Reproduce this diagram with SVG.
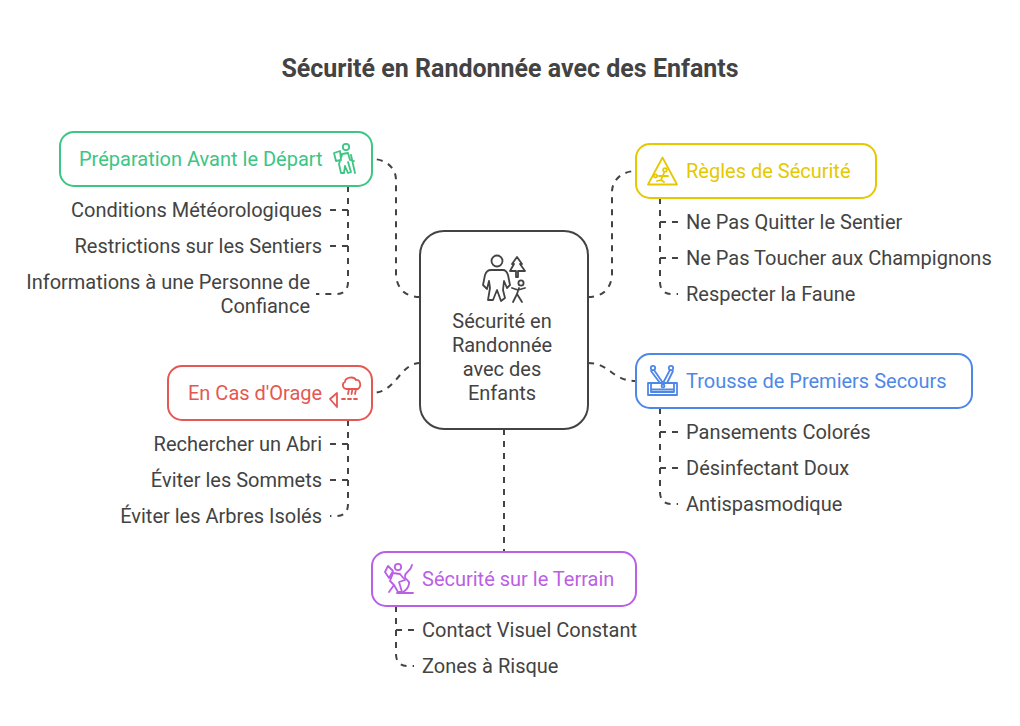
<svg xmlns="http://www.w3.org/2000/svg" width="1020" height="726" viewBox="0 0 1020 726">
<style>
text{font-family:Roboto,"Liberation Sans",sans-serif;font-size:20px;fill:#434343}
.e{text-anchor:end}
.m{text-anchor:middle}
.t{font-size:25px;font-weight:700}
.box{fill:#fff;stroke-width:2}
.ic{fill:none;stroke-width:1.800;stroke-linecap:round;stroke-linejoin:round}
#connectors path{fill:none;stroke:#434343;stroke-width:2;stroke-dasharray:6 6}
.g{stroke:#3cc583}.gt{fill:#3cc583}
.y{stroke:#e5c800}.yt{fill:#e5c800}
.r{stroke:#e55753}.rt{fill:#e55753}
.b{stroke:#4e88e7}.bt{fill:#4e88e7}
.p{stroke:#bb5fe6}.pt{fill:#bb5fe6}
</style>
<rect width="1020" height="726" fill="#fff"/>
<text class="m t" x="510" y="77">Sécurité en Randonnée avec des Enfants</text>
<g id="connectors">
<path d="M420 297C405 297 396 288 396 273V180C396 168 386 159 372 159"/>
<path d="M588 297C603 297 612 288 612 273V192C612 180 622 171 636 171"/>
<path d="M420 363C400 363 396 393 372 393"/>
<path d="M588 363C610 363 612 381 636 381"/>
<path d="M504 429V552"/>
<path d="M348 186V282Q348 294 336 294H316"/>
<path d="M348 210H330"/>
<path d="M348 246H330"/>
<path d="M660 198V282Q660 294 672 294H678"/>
<path d="M660 222H678"/>
<path d="M660 258H678"/>
<path d="M660 408V492Q660 504 672 504H678"/>
<path d="M660 432H678"/>
<path d="M660 468H678"/>
<path d="M348 420V504Q348 516 336 516H330"/>
<path d="M348 444H330"/>
<path d="M348 480H330"/>
<path d="M396 606V654Q396 666 408 666H414"/>
<path d="M396 630H414"/>
</g>
<g id="center">
<rect class="box" x="420" y="231" width="168" height="198" rx="24" stroke="#434343"/>
<g class="ic" stroke="#434343">
<circle cx="497" cy="261" r="5.500"/>
<path d="M491 270H503C506 270 507 272 508 275L510 285L507 288L504 281L503 290L505 298L501 301L497 290L493 300L488 300L490 288L489 281L487 289L483 285L485 275C486 272 488 270 491 270Z"/>
<path d="M517 257L512 264H514L510 271H516V277H518V271H525L520 264H522Z"/>
<circle cx="521" cy="283" r="2.600"/>
<path d="M519 288L517 294L513 302M517 294L522 302M512 288L518 290L525 288"/>
</g>
<text class="m" x="502" y="328">Sécurité en</text>
<text class="m" x="502" y="352">Randonnée</text>
<text class="m" x="502" y="376">avec des</text>
<text class="m" x="502" y="400">Enfants</text>
</g>
<g id="prep">
<rect class="box g" x="60" y="132" width="312" height="54" rx="14"/>
<text class="gt" x="79" y="166">Préparation Avant le Départ</text>
<g class="ic g">
<circle cx="346" cy="147" r="3.200"/>
<path d="M342 154L348 153L350 160L354 161M342 155L339 164L341 173H344L345 166L348 173L351 172L348 162M351 155L355 173M334 153L340 151L341 160L336 161Z"/>
</g>
<text class="e" x="322" y="217">Conditions Météorologiques</text>
<text class="e" x="322" y="253">Restrictions sur les Sentiers</text>
<text class="e" x="310" y="289">Informations à une Personne de</text>
<text class="e" x="310" y="313">Confiance</text>
</g>
<g id="regles">
<rect class="box y" x="636" y="144" width="240" height="54" rx="14"/>
<text class="yt" x="686" y="178">Règles de Sécurité</text>
<g class="ic y">
<path d="M662.500 157.500L677 184.500H648Z"/>
<circle cx="665" cy="170" r="1.800"/>
<path d="M664 173L661 180M659 176L668 176M661 180L664 182M661 180L657 181"/>
<circle cx="655.500" cy="176" r="1.600"/>
</g>
<text x="686" y="229">Ne Pas Quitter le Sentier</text>
<text x="686" y="265">Ne Pas Toucher aux Champignons</text>
<text x="686" y="301">Respecter la Faune</text>
</g>
<g id="orage">
<rect class="box r" x="168" y="366" width="204" height="54" rx="14"/>
<text class="rt" x="188" y="400">En Cas d'Orage</text>
<g class="ic r">
<path d="M346 389C342 388 342 383 345 382C345 377 354 376 356 380C360 379 362 386 358 389Z"/>
<path d="M349 389L348 394M352.500 389L351.500 394M356 389L355 394"/>
<path d="M342 399H359" stroke-dasharray="3 3"/>
<path d="M330 399L337 393V407Z"/>
</g>
<text class="e" x="322" y="451">Rechercher un Abri</text>
<text class="e" x="322" y="487">Éviter les Sommets</text>
<text class="e" x="322" y="523">Éviter les Arbres Isolés</text>
</g>
<g id="trousse">
<rect class="box b" x="636" y="354" width="336" height="54" rx="14"/>
<text class="bt" x="686" y="388">Trousse de Premiers Secours</text>
<g class="ic b">
<path d="M648 383H677V395H648ZM651 389.500H674M651 383V392H674V383"/>
<circle cx="653" cy="368" r="2.200"/><path d="M654 370L663 383M651 371L660 383"/>
<circle cx="671" cy="368" r="2.200"/><path d="M670 370L663 383M673 371L667 383"/>
<circle cx="663" cy="386" r="1.500"/>
</g>
<text x="686" y="439">Pansements Colorés</text>
<text x="686" y="475">Désinfectant Doux</text>
<text x="686" y="511">Antispasmodique</text>
</g>
<g id="terrain">
<rect class="box p" x="372" y="552" width="264" height="54" rx="14"/>
<text class="pt" x="422" y="586">Sécurité sur le Terrain</text>
<g class="ic p">
<circle cx="398" cy="567" r="3.200"/>
<path d="M393 573L400 574L405 580L399 582L402 592H398L394 585L389 592M393 573L390 581L394 585M388 566L385 572L389 578L393 571Z"/>
<path d="M412 565C411 572 404 572 405 577C406 581 410 580 409 584C408 589 405 591 403 592M397 593H413"/>
</g>
<text x="422" y="637">Contact Visuel Constant</text>
<text x="422" y="673">Zones à Risque</text>
</g>
</svg>
